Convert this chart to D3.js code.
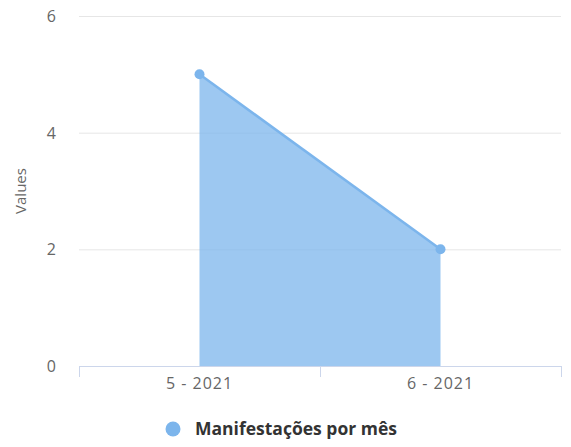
<!DOCTYPE html>
<html lang="pt">
<head>
<meta charset="UTF-8">
<title>Manifestações por mês</title>
<script src="https://d3js.org/d3.v7.min.js"></script>
<style>
body { margin: 0; background: #fff; }
svg { display: block; font-family: "Open Sans", "DejaVu Sans", sans-serif; }
</style>
</head>
<body>
<svg width="571" height="447"></svg>
<script>
// chart data
var categories = ['5 - 2021', '6 - 2021'];
var values = [5, 2];
var yTicks = [0, 2, 4, 6];
var seriesName = 'Manifestações por mês';
var axisTitle = 'Values';

var svg = d3.select('svg');
var mLeft = 79, mRight = 561, mTop = 16, mBottom = 366;

var x = d3.scaleBand().domain(categories).range([mLeft, mRight]);
var y = d3.scaleLinear().domain([0, 6]).range([mBottom, mTop]);
var cx = function(d) { return x(d) + x.bandwidth() / 2; };

// gridlines
svg.append('g').selectAll('line')
    .data(yTicks.filter(function(d) { return d > 0; }))
    .enter().append('line')
    .attr('x1', mLeft).attr('x2', mRight)
    .attr('y1', function(d) { return y(d) + 0.5; })
    .attr('y2', function(d) { return y(d) + 0.5; })
    .attr('stroke', '#e6e6e6').attr('stroke-width', 1);

// y labels
svg.append('g').selectAll('text')
    .data(yTicks)
    .enter().append('text')
    .attr('x', 56)
    .attr('y', function(d) { return y(d) + 6; })
    .attr('text-anchor', 'end')
    .attr('font-size', 16)
    .attr('fill', '#666')
    .text(function(d) { return d; });

svg.append('text')
    .attr('transform', 'translate(26,' + y(3) + ') rotate(-90)')
    .attr('text-anchor', 'middle')
    .attr('font-size', 15)
    .attr('fill', '#666')
    .text(axisTitle);

// area + line
var pts = categories.map(function(c, i) { return [cx(c), y(values[i])]; });
var area = d3.area().x(function(d) { return d[0]; }).y0(mBottom).y1(function(d) { return d[1]; });
svg.append('path').datum(pts)
    .attr('d', area)
    .attr('fill', '#7cb5ec').attr('fill-opacity', 0.75);
svg.append('path').datum(pts)
    .attr('d', d3.line())
    .attr('fill', 'none').attr('stroke', '#7cb5ec').attr('stroke-width', 2.5);
svg.append('g').selectAll('circle')
    .data(pts).enter().append('circle')
    .attr('cx', function(d) { return d[0]; })
    .attr('cy', function(d) { return d[1]; })
    .attr('r', 5)
    .attr('fill', '#7cb5ec');

// x axis
svg.append('line')
    .attr('x1', mLeft).attr('x2', mRight)
    .attr('y1', mBottom + 0.5).attr('y2', mBottom + 0.5)
    .attr('stroke', '#ccd6eb');
var xTickPos = [mLeft].concat(categories.map(function(c) { return x(c) + x.bandwidth(); }));
svg.append('g').selectAll('line')
    .data(xTickPos).enter().append('line')
    .attr('x1', function(d) { return d + 0.5; }).attr('x2', function(d) { return d + 0.5; })
    .attr('y1', mBottom).attr('y2', mBottom + 11)
    .attr('stroke', '#ccd6eb');
svg.append('g').selectAll('text')
    .data(categories).enter().append('text')
    .attr('x', cx)
    .attr('y', 389)
    .attr('text-anchor', 'middle')
    .attr('font-size', 16)
    .attr('letter-spacing', 1)
    .attr('fill', '#666')
    .text(function(d) { return d; });

// legend
svg.append('circle')
    .attr('cx', 173).attr('cy', 429).attr('r', 7.5)
    .attr('fill', '#7cb5ec');
svg.append('text')
    .attr('x', 195).attr('y', 435)
    .attr('font-size', 17.5)
    .attr('font-weight', 'bold')
    .attr('fill', '#333')
    .text(seriesName);
</script>
</body>
</html>
